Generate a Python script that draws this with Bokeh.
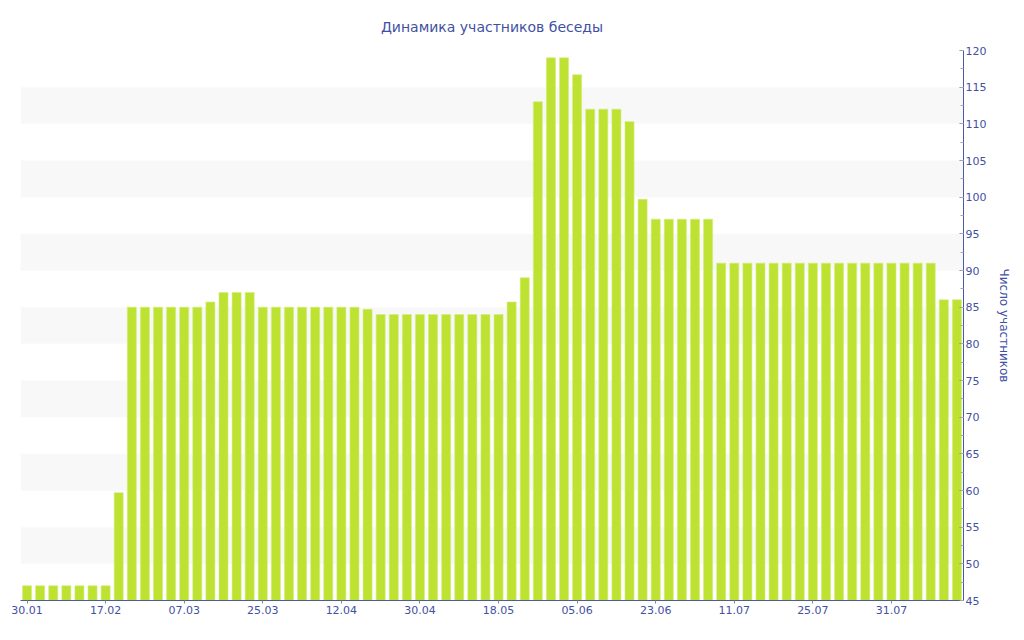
from bokeh.plotting import figure
from bokeh.models import Range1d, FixedTicker, SingleIntervalTicker, LinearAxis, Title
from bokeh.embed import file_html
from bokeh.resources import INLINE

participants = [47, 47, 47, 47, 47, 47, 47, 59.7,
                85, 85, 85, 85, 85, 85, 85.7, 87, 87, 87,
                85, 85, 85, 85, 85, 85, 85, 85, 84.7,
                84, 84, 84, 84, 84, 84, 84, 84, 84, 84, 85.7,
                89, 113, 119, 119, 116.7, 112, 112, 112, 110.3, 99.7,
                97, 97, 97, 97, 97,
                91, 91, 91, 91, 91, 91, 91, 91, 91, 91, 91, 91, 91, 91, 91, 91, 91,
                86, 86]
tick_positions = [0, 6, 12, 18, 24, 30, 36, 42, 48, 54, 60, 66]
tick_labels = ["30.01", "17.02", "07.03", "25.03", "12.04", "30.04",
               "18.05", "05.06", "23.06", "11.07", "25.07", "31.07"]
title_text = "Динамика участников беседы"
y_label = "Число участников"

TXT = "#3f51a2"
AX = "#4a5ba5"
FONT = "DejaVu Sans"

idx = list(range(len(participants)))

p = figure(frame_width=943, frame_height=550, output_backend="svg",
           toolbar_location=None, x_range=Range1d(-0.5, len(participants) - 0.5),
           y_range=Range1d(45, 120), y_axis_location=None,
           min_border_left=20, min_border_top=13, min_border_bottom=5,
           min_border_right=5, outline_line_color=None)

p.title = Title(text=title_text, align="center", text_color=TXT,
                text_font=FONT, text_font_size="14px", text_font_style="normal",
                standoff=32)

p.vbar(x=idx, top=participants, bottom=45, width=0.69,
       fill_color="#bde232", line_color="#d4ec7c", line_width=0.6)

# x axis
xa = p.xaxis[0]
xa.ticker = FixedTicker(ticks=tick_positions)
xa.major_label_overrides = {t: l for t, l in zip(tick_positions, tick_labels)}
xa.axis_line_color = AX
xa.major_tick_line_color = "#888888"
xa.major_tick_in = 0
xa.major_tick_out = 3
xa.minor_tick_line_color = None
xa.major_label_text_color = TXT
xa.major_label_text_font = FONT
xa.major_label_text_font_size = "11px"
xa.major_label_standoff = 2

# y axis on the right
ya = LinearAxis(ticker=SingleIntervalTicker(interval=5, num_minor_ticks=2),
                axis_label=y_label)
ya.axis_line_color = AX
ya.major_tick_line_color = "#888888"
ya.minor_tick_line_color = "#aaaaaa"
ya.major_tick_in = 4
ya.major_tick_out = 0
ya.minor_tick_in = 3
ya.minor_tick_out = 0
ya.major_label_text_color = TXT
ya.major_label_text_font = FONT
ya.major_label_text_font_size = "11px"
ya.major_label_standoff = 2
ya.axis_label_text_color = TXT
ya.axis_label_text_font = FONT
ya.axis_label_text_font_size = "12px"
ya.axis_label_text_font_style = "normal"
ya.axis_label_standoff = 8
p.add_layout(ya, "right")

p.xgrid.visible = False
p.ygrid.grid_line_color = None
p.ygrid.ticker = SingleIntervalTicker(interval=5)
p.ygrid.band_fill_color = "#f8f8f8"
p.ygrid.band_fill_alpha = 1.0

open("out.html", "w").write(file_html(p, INLINE))
